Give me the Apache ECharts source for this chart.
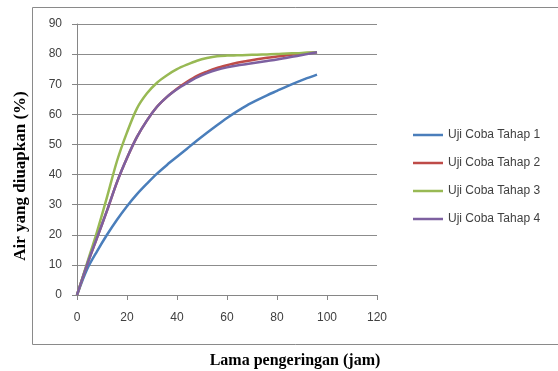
<!DOCTYPE html>
<html>
<head>
<meta charset="utf-8">
<script src="https://cdn.jsdelivr.net/npm/echarts@6/dist/echarts.min.js"></script>
<style>html,body{margin:0;padding:0;background:#fff;}#c{width:558px;height:371px;}</style>
</head>
<body>
<div id="c"></div>
<script>
const hours = [0,4,8,12,16,20,24,28,32,36,40,44,48,52,56,60,64,68,72,76,80,84,88,92,96];
const tahap1 = [0,8.5,14.5,20,25,29.5,33.5,37,40.3,43.2,45.9,48.6,51.3,53.9,56.4,58.8,61,63,64.7,66.3,67.8,69.3,70.7,72,73.2];
const tahap2 = [0,10,19,28,37.5,45.5,52.5,58,62.5,65.8,68.5,70.8,72.8,74.2,75.4,76.3,77.1,77.7,78.3,78.8,79.2,79.6,80,80.3,80.6];
const tahap3 = [0,10.5,21,32.5,44.5,54,62,67,70.5,73,75,76.5,77.8,78.7,79.3,79.5,79.6,79.7,79.8,79.9,80,80.2,80.3,80.5,80.6];
const tahap4 = [0,10,19,28,37.5,45.5,52.5,58,62.5,65.8,68.3,70.4,72.3,73.7,74.8,75.6,76.2,76.7,77.2,77.7,78.2,78.8,79.4,80,80.6];
const seriesNames = ['Uji Coba Tahap 1','Uji Coba Tahap 2','Uji Coba Tahap 3','Uji Coba Tahap 4'];
const xTicks = [0,20,40,60,80,100,120];
const yTicks = [0,10,20,30,40,50,60,70,80,90];
const xTitle = 'Lama pengeringan (jam)';
const yTitle = 'Air yang diuapkan (%)';

const colors = ['#4A7EBB','#BE4B48','#98B954','#7D60A0'];
const allData = [tahap1, tahap2, tahap3, tahap4];
const titleFont = 'bold 16px "Liberation Serif", "Times New Roman", serif';

const chart = echarts.init(document.getElementById('c'), null, {renderer:'canvas'});
chart.setOption({
  animation: false,
  backgroundColor: '#fff',
  color: colors,
  graphic: [{
    type: 'rect',
    shape: {x: 32.5, y: 7.5, width: 540, height: 337},
    style: {fill: 'none', stroke: '#8a8a8a', lineWidth: 1},
    silent: true, z: -1
  }, {
    type: 'text',
    x: 295, y: 361,
    style: {text: xTitle, font: titleFont, fill: '#000', textAlign: 'center', textVerticalAlign: 'middle'},
    silent: true
  }, {
    type: 'text',
    x: 21, y: 176, rotation: Math.PI / 2,
    style: {text: yTitle, font: 'bold 17px "Liberation Serif", "Times New Roman", serif', fill: '#000', textAlign: 'center', textVerticalAlign: 'middle'},
    silent: true
  }],
  grid: {left: 77, right: 181, top: 24, bottom: 76},
  legend: {
    orient: 'vertical',
    left: 408, top: 123,
    itemWidth: 30, itemHeight: 2.5, itemGap: 14,
    icon: 'rect',
    textStyle: {fontFamily: 'Liberation Sans, Arial, sans-serif', fontSize: 12, color: '#404040', lineHeight: 14},
    data: seriesNames
  },
  xAxis: {
    type: 'value',
    min: xTicks[0], max: xTicks[xTicks.length-1], interval: 20,
    axisLine: {show: true, lineStyle: {color: '#868686', width: 1}},
    axisTick: {show: true, length: 5, lineStyle: {color: '#868686'}},
    axisLabel: {margin: 17, fontFamily: 'Liberation Sans, Arial, sans-serif', fontSize: 12, color: '#404040'},
    splitLine: {show: false}
  },
  yAxis: {
    type: 'value',
    min: yTicks[0], max: yTicks[yTicks.length-1], interval: 10,
    axisLine: {show: true, lineStyle: {color: '#868686', width: 1}},
    axisTick: {show: true, length: 5, lineStyle: {color: '#868686'}},
    axisLabel: {margin: 15, fontFamily: 'Liberation Sans, Arial, sans-serif', fontSize: 12, color: '#404040'},
    splitLine: {show: true, lineStyle: {color: '#8c8c8c', width: 1}}
  },
  series: seriesNames.map((n, i) => ({
    name: n,
    type: 'line',
    data: hours.map((h, j) => [h, allData[i][j]]),
    showSymbol: false,
    smooth: 0.3,
    lineStyle: {width: 2.5, color: colors[i]},
    itemStyle: {color: colors[i]}
  }))
});
</script>
</body>
</html>
